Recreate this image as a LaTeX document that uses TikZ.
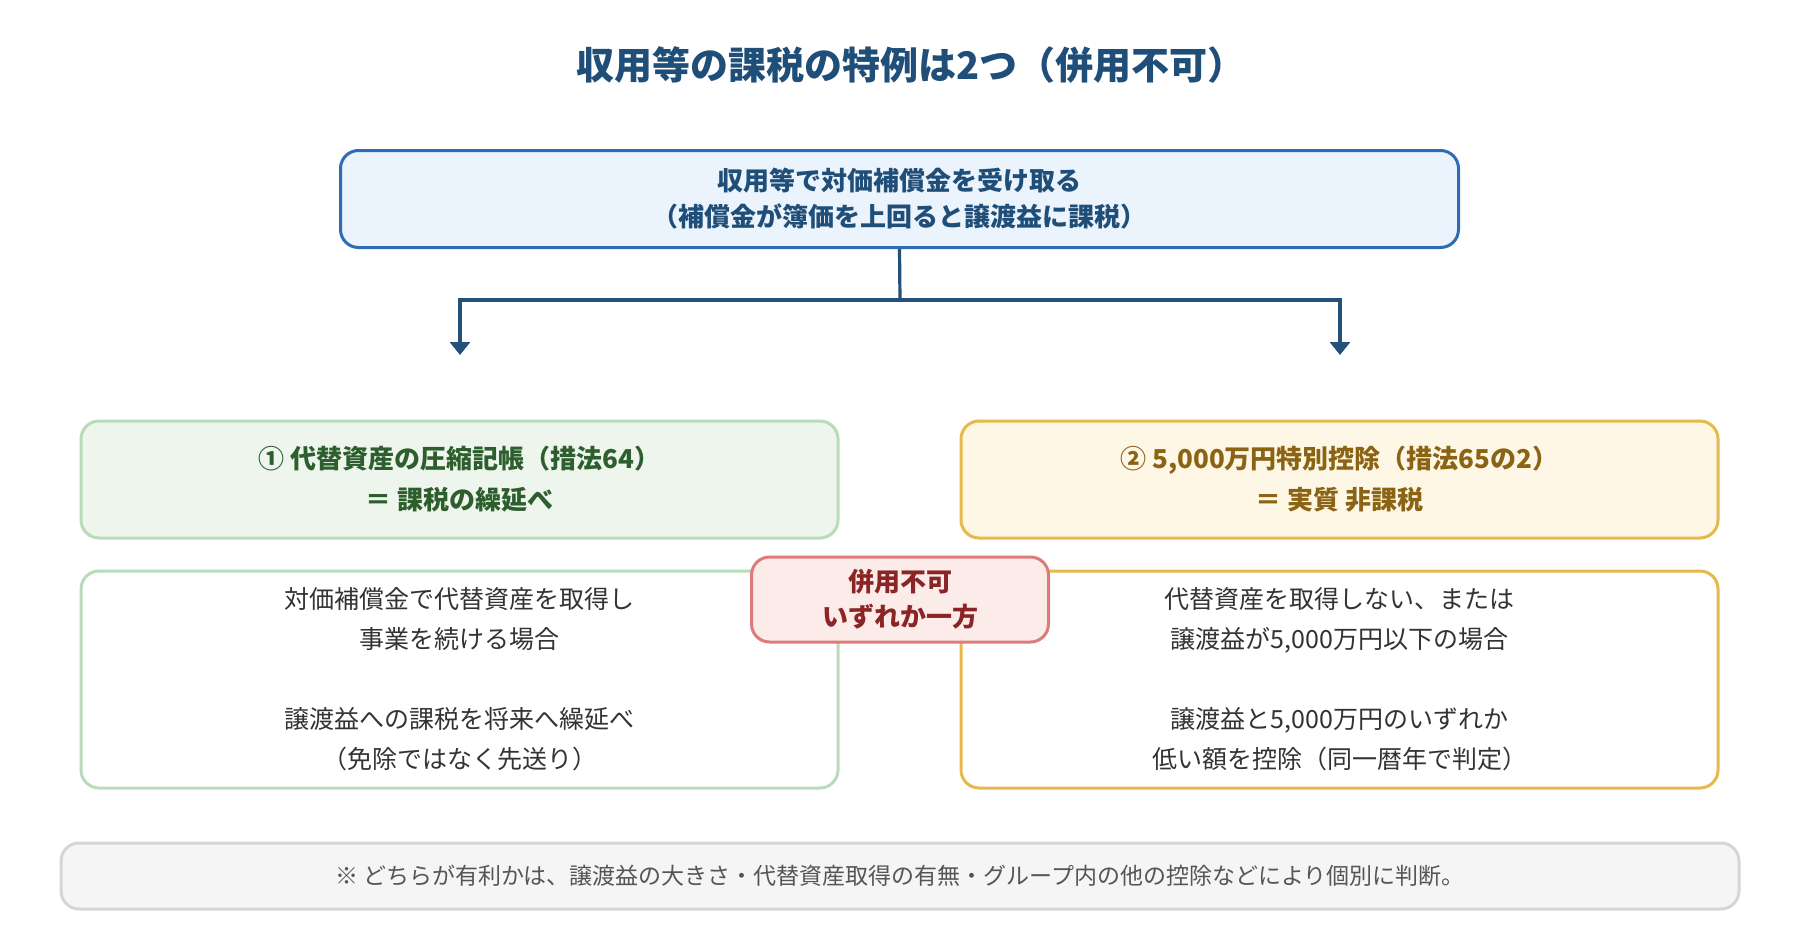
\documentclass[tikz,border=0pt]{standalone}
\usepackage{fontspec}
\setmainfont{Noto Sans CJK JP}
\usetikzlibrary{arrows.meta}
\definecolor{titleblue}{HTML}{1F4E79}
\definecolor{topfill}{HTML}{EBF3FC}
\definecolor{topdraw}{HTML}{2E6DB4}
\definecolor{connblue}{HTML}{24507A}
\definecolor{gfill}{HTML}{EEF5EC}
\definecolor{gdraw}{HTML}{B9DBBA}
\definecolor{gtext}{HTML}{2D5E2D}
\definecolor{yfill}{HTML}{FFF7E6}
\definecolor{ydraw}{HTML}{E5B94B}
\definecolor{ytext}{HTML}{8A6414}
\definecolor{rfill}{HTML}{FBECEA}
\definecolor{rdraw}{HTML}{DD7B7B}
\definecolor{rtext}{HTML}{8B2525}
\definecolor{ffill}{HTML}{F5F5F5}
\definecolor{fdraw}{HTML}{D6D6D6}
\definecolor{ftext}{HTML}{555555}
\definecolor{btext}{HTML}{333333}
\tikzset{
  box/.style={rectangle, rounded corners=18pt, line width=3pt, align=center, inner sep=0pt},
  topbox/.style={box, draw=topdraw, fill=topfill, text=titleblue, minimum width=1118pt, minimum height=97pt, font=\fontsize{26}{36}\selectfont\bfseries},
  hdrbox/.style={box, minimum width=757pt, minimum height=117pt, font=\fontsize{26}{41}\selectfont\bfseries},
  bodybox/.style={box, fill=white, text=btext, minimum width=757pt, minimum height=217pt, font=\fontsize{25}{40}\selectfont},
  conn/.style={draw=connblue, line width=3.2pt},
  connarrow/.style={conn, -{Triangle[width=20pt,length=13pt]}},
}
\begin{document}
\begin{tikzpicture}[x=1pt,y=-1pt]
\useasboundingbox (0,0) rectangle (1800,940);
\node[text=titleblue, font=\fontsize{38}{44}\selectfont\bfseries] (title) at (911,65) {収用等の課税の特例は2つ（併用不可）};
\node[topbox] (top) at (899.5,199) {収用等で対価補償金を受け取る\\（補償金が簿価を上回ると譲渡益に課税）};
\coordinate (j) at (900,300);
\coordinate (a1) at (460,355);
\coordinate (a2) at (1340,355);
\draw[conn] (top.south) -- (j);
\draw[connarrow] (j) -| (a1);
\draw[connarrow] (j) -| (a2);
\node[hdrbox, draw=gdraw, fill=gfill, text=gtext] (gh) at (459.5,479.5) {① 代替資産の圧縮記帳（措法64）\\＝ 課税の繰延べ};
\node[hdrbox, draw=ydraw, fill=yfill, text=ytext] (yh) at (1339.5,479.5) {② 5,000万円特別控除（措法65の2）\\＝ 実質 非課税};
\node[bodybox, draw=gdraw] (gb) at (459.5,679.5) {対価補償金で代替資産を取得し\\事業を続ける場合\\[40pt]譲渡益への課税を将来へ繰延べ\\（免除ではなく先送り）};
\node[bodybox, draw=ydraw] (yb) at (1339.5,679.5) {代替資産を取得しない、または\\譲渡益が5,000万円以下の場合\\[40pt]譲渡益と5,000万円のいずれか\\低い額を控除（同一暦年で判定）};
\node[box, draw=rdraw, fill=rfill, text=rtext, minimum width=297pt, minimum height=85pt, font=\fontsize{26}{35}\selectfont\bfseries] (ex) at (900,599.5) {併用不可\\いずれか一方};
\node[box, draw=fdraw, fill=ffill, text=ftext, minimum width=1678pt, minimum height=66pt, font=\fontsize{23}{28}\selectfont] (foot) at (900,876) {※ どちらが有利かは、譲渡益の大きさ・代替資産取得の有無・グループ内の他の控除などにより個別に判断。};
\end{tikzpicture}
\end{document}
